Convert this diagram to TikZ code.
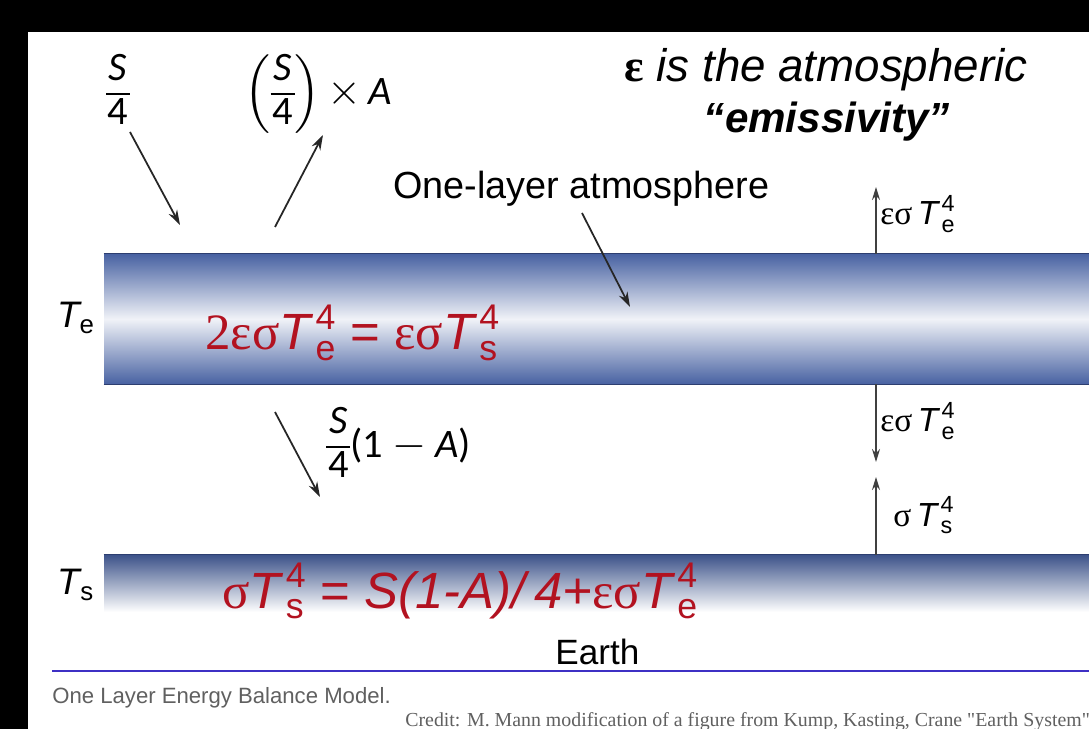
\documentclass[tikz,border=0pt]{standalone}
\usepackage{fontspec}
\usepackage{amsmath}
\setmainfont{Liberation Sans}
\newfontfamily\calfont{Carlito}
\newfontfamily\grkfont{Liberation Serif}
\usetikzlibrary{arrows.meta, positioning, calc}

\definecolor{bandblue}{RGB}{72,98,162}
\definecolor{bandedge}{RGB}{45,62,112}
\definecolor{eqred}{RGB}{178,18,32}
\definecolor{rulepurple}{RGB}{62,48,196}
\definecolor{capgray}{RGB}{96,96,96}

\newcommand{\grk}[1]{{\grkfont #1}}
\newcommand{\Tpow}[1]{\ensuremath{{\textit{T}\mkern2mu}_{\text{\upshape #1}}^{\text{\upshape 4}}}}
\newcommand{\qfrac}[2]{{\renewcommand{\arraystretch}{0.92}\setlength{\arrayrulewidth}{0.9pt}%
    \setlength{\tabcolsep}{1pt}\ensuremath{\vcenter{\hbox{\begin{tabular}{c}#1\\\hline #2\end{tabular}}}}}}

\begin{document}
\begin{tikzpicture}[
    x=0.02cm, y=-0.02cm,
    flux/.style={-{Stealth[length=3mm, width=1.9mm]}, line width=1pt, black!85},
    vflux/.style={-{Stealth[length=2.6mm, width=1.6mm]}, line width=0.8pt, black!75},
    atmband/.style={rectangle, minimum width=19.7cm, minimum height=2.6cm, inner sep=0pt, draw=none,
        top color=bandblue, bottom color=bandblue, middle color=white!92!bandblue},
    earthband/.style={rectangle, minimum width=19.7cm, minimum height=1.14cm, inner sep=0pt, draw=none,
        top color=bandblue!85!black, bottom color=white},
    fluxlbl/.style={font=\fontsize{19}{22}\selectfont, inner sep=0pt, anchor=base west},
    frac/.style={font=\calfont\fontsize{23}{26}\selectfont, inner sep=0pt},
    redeq/.style={font=\fontsize{29}{32}\selectfont, text=eqred, inner sep=0pt, anchor=base west},
    templbl/.style={font=\fontsize{21}{24}\selectfont, inner sep=0pt},
    plain/.style={inner sep=0pt, anchor=base west}
]
\useasboundingbox (0,0) rectangle (1089,729);
\begin{scope}
\clip (0,0) rectangle (1089,729);

% Frame
\fill[black] (0,0) rectangle (1089,729);
\fill[white] (28,32) rectangle (1089,729);

% Bands
\node[atmband] (atm) at (596.5,319) {};
\node[earthband] (earth) at (596.5,583.5) {};
\draw[bandedge, line width=0.8pt] (atm.north west) -- (atm.north east);
\draw[bandedge, line width=0.8pt] (atm.south west) -- (atm.south east);
\draw[bandedge, line width=0.8pt] (earth.north west) -- (earth.north east);

% Temperatures
\node[templbl] (te) at (76,318) {\ensuremath{\textit{T}_{\text{\upshape e}}}};
\node[templbl] (ts) at (76,585) {\ensuremath{\textit{T}_{\text{\upshape s}}}};

% Solar fluxes
\node[frac] (sin) at (118,94) {\qfrac{\itshape S}{4}};
\node[frac] (sout) at (318,94) {\ensuremath{\left(\qfrac{\itshape S}{4}\right)}\,$\times$\,\textit{A}};
\node[frac, anchor=west] (sabs) at (326,447) {\qfrac{\itshape S}{4}(1 $-$ \textit{A})};

\coordinate (sin-a) at (130,132);
\coordinate (sin-b) at (180,225);
\coordinate (sout-a) at (275,227);
\coordinate (sout-b) at (323,135);
\coordinate (sabs-a) at (275,412);
\coordinate (sabs-b) at (320,497);
\foreach \a/\b in {sin-a/sin-b, sout-a/sout-b, sabs-a/sabs-b}
    \draw[flux] (\a) -- (\b);

% Atmosphere label
\node[plain, font=\fontsize{21.5}{24}\selectfont] (olabel) at (393,199) {One-layer atmosphere};
\coordinate (olabel-a) at (582,213);
\coordinate (olabel-tip) at (630,307);
\draw[flux] (olabel-a) -- (olabel-tip);

% Title
\node[inner sep=0pt, anchor=base, font=\fontsize{26}{30}\selectfont\itshape] (emis1) at (826,82)
    {{\grkfont\bfseries\upshape ε} is the atmospheric};
\node[inner sep=0pt, anchor=base, font=\fontsize{24}{28}\selectfont\bfseries\itshape] (emis2) at (827,133)
    {“emissivity”};

% Longwave fluxes
\coordinate (rx) at (876,0);
\coordinate (up-top) at (876,187);
\coordinate (down-tip) at (876,462);
\coordinate (up-tip) at (876,477);
\draw[vflux] (atm.north -| rx) -- (up-top);
\draw[vflux] (atm.south -| rx) -- (down-tip);
\draw[vflux] (earth.north -| rx) -- (up-tip);
\node[fluxlbl] (lw-out) at (880,225) {\grk{εσ}\,\Tpow{e}};
\node[fluxlbl] (lw-down) at (880,432) {\grk{εσ}\,\Tpow{e}};
\node[fluxlbl] (lw-up) at (893,526) {\grk{σ}\,\Tpow{s}};

% Balance equations
\node[redeq] (eqatm) at (205,350) {\grk{2εσ}\Tpow{e} = \grk{εσ}\Tpow{s}};
\node[redeq] (eqsurf) at (222,608) {\grk{σ}\Tpow{s} = \textit{S(1-A)/\,4+}\grk{εσ}\Tpow{e}};

% Earth
\node[plain, font=\fontsize{20}{24}\selectfont] (earthlbl) at (555,664) {Earth};

% Caption
\coordinate (rule-l) at (52,671);
\coordinate (rule-r) at (1089,671);
\draw[rulepurple, line width=1.7pt] (rule-l) -- (rule-r);
\node[plain, font=\fontsize{12.6}{15}\selectfont, text=capgray] (caption) at (52,703) {One Layer Energy Balance Model.};
\node[plain, font=\grkfont\fontsize{11.3}{12}\selectfont, text=capgray] (credit) at (405,726)
    {Credit: M. Mann modification of a figure from Kump, Kasting, Crane "Earth System"};
\end{scope}
\end{tikzpicture}
\end{document}
